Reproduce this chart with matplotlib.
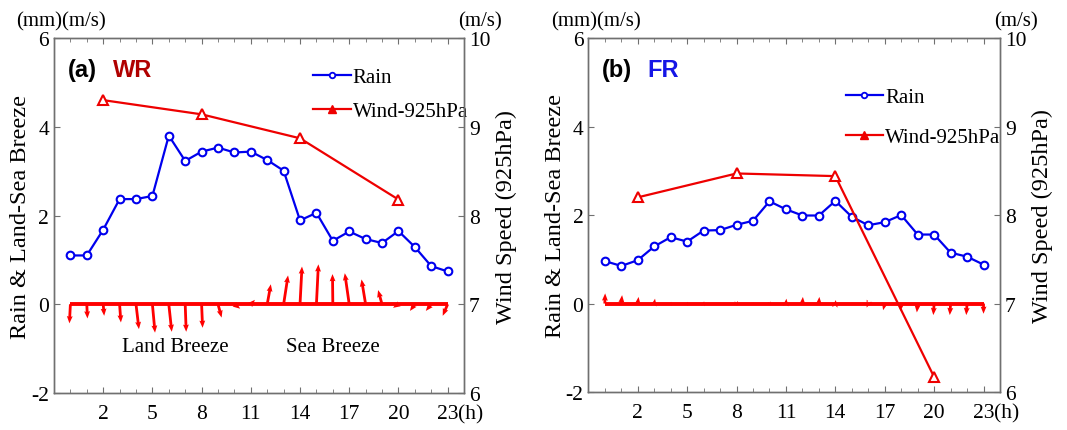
import numpy as np
import matplotlib
matplotlib.use("Agg")
import matplotlib.pyplot as plt
import matplotlib.transforms as mtransforms
from matplotlib.lines import Line2D

plt.rcParams['font.family'] = ['Liberation Serif', 'DejaVu Serif']
plt.rcParams['axes.unicode_minus'] = False

hours = list(range(24))
wind_hours = [2, 8, 14, 20]

# (a) WR
rain_wr = [1.10, 1.10, 1.68, 2.37, 2.37, 2.44, 3.80, 3.23, 3.44, 3.53, 3.42, 3.44,
           3.25, 3.01, 1.89, 2.06, 1.43, 1.64, 1.47, 1.38, 1.65, 1.29, 0.86, 0.74]
wind_wr = [9.30, 9.14, 8.87, 8.18]
breeze_u_wr = [-0.06, 0.04, 0.06, 0.08, 0.18, 0.16, 0.18, 0.06, 0.06, 0.22, 0.35, 0.25,
               0.22, 0.27, 0.12, 0.12, -0.02, -0.27, -0.25, -0.24, -0.33, -0.30, -0.33, -0.30]
breeze_v_wr = [-0.43, -0.32, -0.26, -0.41, -0.56, -0.64, -0.62, -0.62, -0.53, -0.30, -0.10, 0.10,
               0.45, 0.65, 0.85, 0.90, 0.68, 0.70, 0.56, 0.32, -0.08, -0.15, -0.15, -0.26]

# (b) FR
rain_fr = [0.96, 0.85, 0.98, 1.29, 1.50, 1.40, 1.65, 1.66, 1.78, 1.87, 2.31, 2.13,
           1.99, 1.99, 2.32, 1.96, 1.77, 1.84, 2.00, 1.56, 1.56, 1.15, 1.06, 0.88]
wind_fr = [8.20, 8.47, 8.44, 6.17]
breeze_u_fr = [0.02, 0.05, 0.05, 0.05, 0.03, 0.03, 0.03, 0.03, 0.02, 0.02, 0.02, 0.03,
               0.03, 0.03, 0.03, 0.02, -0.10, -0.10, -0.05, -0.05, -0.05, -0.05, -0.05, 0.0]
breeze_v_fr = [0.23, 0.19, 0.15, 0.11, 0.04, 0.04, 0.05, 0.02, -0.05, -0.02, -0.04, 0.11,
               0.15, 0.15, 0.08, 0.02, -0.09, -0.15, -0.17, -0.20, -0.26, -0.26, -0.26, -0.23]

xticks = [2, 5, 8, 11, 14, 17, 20, 23]
yticks_left = [-2, 0, 2, 4, 6]
yticks_right = [6, 7, 8, 9, 10]

GREY = '#707070'
FS = 15.5
XPAD = 8


def draw_panel(rect, rain, wind, bu, bv, tag, name, name_color, leg_pos, leg_space, show_breeze_text):
    ax = fig.add_axes(rect)
    ax2 = ax.twinx()

    # feather of land-sea breeze
    ax.plot([hours[0], hours[-1]], [0, 0], color='#ff0000', lw=2.8, zorder=2,
            solid_capstyle='butt')
    ax.quiver(hours, [0] * len(hours), bu, bv, angles='xy', scale_units='xy', scale=1,
              color='#ff0000', width=0.0068, headwidth=2.1, headlength=2.6,
              headaxislength=2.4, minlength=0.1, minshaft=0.5, zorder=3)
    ax.plot(hours, rain, color='#0000ee', lw=1.6, marker='o', ms=5.5, mfc='white',
            mec='#0000ee', mew=1.5, zorder=4)
    ax2.plot(wind_hours, wind, color='#ee0000', lw=1.6, marker='^', ms=7, mfc='white',
             mec='#ee0000', mew=1.5, zorder=4)

    ax.set_xlim(-1, 24)
    ax.set_ylim(-2, 6)
    ax2.set_ylim(6, 10)
    ax.set_xticks(xticks)
    ax.set_xticks(hours, minor=True)
    ax.set_yticks(yticks_left)
    ax2.set_yticks(yticks_right)
    ax.tick_params(axis='both', which='both', direction='in', colors=GREY,
                   labelcolor='black', labelsize=FS, top=True, length=4)
    ax.tick_params(axis='x', which='both', pad=XPAD)
    ax.tick_params(axis='x', which='minor', length=3)
    ax2.tick_params(direction='in', colors=GREY, labelcolor='black', labelsize=FS, length=4)
    for a in (ax, ax2):
        for s in a.spines.values():
            s.set_color(GREY)
            s.set_linewidth(1.0)

    ax.set_ylabel('Rain & Land-Sea Breeze', fontsize=17.5, labelpad=0)
    ax2.set_ylabel('Wind Speed (925hPa)', fontsize=17.5, labelpad=4)

    ax.text(0.018, 1.022, '(mm)(m/s)', transform=ax.transAxes, fontsize=15,
            ha='center', va='bottom')
    ax.text(1.04, 1.022, '(m/s)', transform=ax.transAxes, fontsize=15,
            ha='center', va='bottom')
    h_trans = ax.get_xaxis_transform() + mtransforms.ScaledTranslation(0, -XPAD / 72, fig.dpi_scale_trans)
    ax.text(23.62, 0, '(h)', transform=h_trans, fontsize=FS, ha='left', va='top')

    ax.text(0.034, 0.912, tag, transform=ax.transAxes, fontsize=17, fontweight='bold',
            family=['Liberation Sans', 'DejaVu Sans'], ha='left', va='center')
    ax.text(0.143, 0.912, name, transform=ax.transAxes, fontsize=17, fontweight='bold',
            family=['Liberation Sans', 'DejaVu Sans'], color=name_color,
            ha='left', va='center')

    if show_breeze_text:
        ax.text(6.4, -0.95, 'Land Breeze', fontsize=15, ha='center', va='center')
        ax.text(16.0, -0.95, 'Sea Breeze', fontsize=15, ha='center', va='center')

    handles = [
        Line2D([], [], color='#0000ee', lw=1.6, marker='o', ms=4, mfc='white',
               mec='#0000ee', mew=1.3),
        Line2D([], [], color='#ee0000', lw=1.6, marker='^', ms=6, mfc='#ee0000',
               mec='#ee0000'),
    ]
    ax.legend(handles, ['Rain', 'Wind-925hPa'], loc='upper left',
              bbox_to_anchor=leg_pos, frameon=False, fontsize=15,
              handlelength=1.8, handletextpad=0.1, labelspacing=leg_space,
              borderaxespad=0)
    return ax


fig = plt.figure(figsize=(10.67, 4.31), dpi=100)

draw_panel([0.0506, 0.0858, 0.3843, 0.8237], rain_wr, wind_wr, breeze_u_wr, breeze_v_wr,
           '(a)', 'WR', '#b00000', (0.612, 0.94), 0.7, True)
draw_panel([0.5514, 0.0880, 0.3858, 0.8214], rain_fr, wind_fr, breeze_u_fr, breeze_v_fr,
           '(b)', 'FR', '#1515e6', (0.605, 0.884), 0.98, False)

fig.savefig('out.png', dpi=100)
